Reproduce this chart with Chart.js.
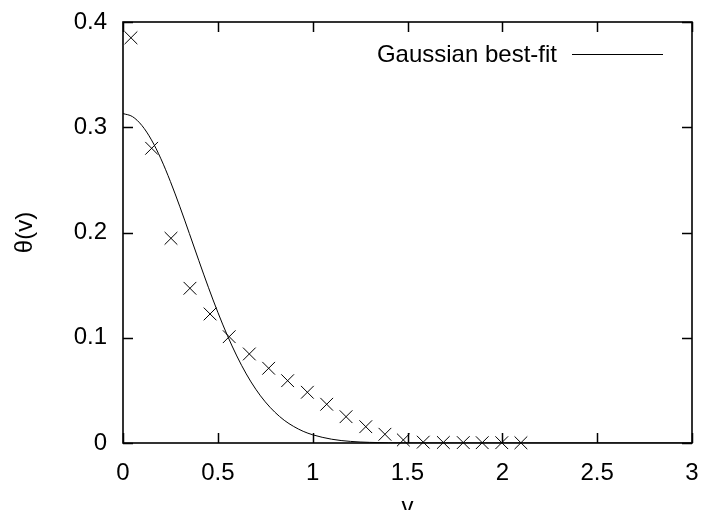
<!DOCTYPE html>
<html>
<head>
<meta charset="utf-8">
<script src="https://cdn.jsdelivr.net/npm/chart.js@4/dist/chart.umd.min.js"></script>
<style>
  html, body { margin: 0; padding: 0; background: #ffffff; }
  #wrap { width: 704px; height: 510px; }
</style>
</head>
<body>
<div id="wrap"><canvas id="c" width="704" height="510"></canvas></div>
<script>
// ---- data ----
const pointX = [0.042, 0.151, 0.253, 0.353, 0.459, 0.560, 0.666, 0.768, 0.868, 0.972,
                1.074, 1.176, 1.280, 1.381, 1.478, 1.583, 1.689, 1.794, 1.894, 1.997, 2.098];
const pointTheta = [0.385, 0.280, 0.1945, 0.147, 0.1226, 0.101, 0.0846, 0.071, 0.0592, 0.0482,
                    0.0368, 0.025, 0.0155, 0.0083, 0.0029, 0.0008, 0.0005, 0.0004, 0.0003, 0.0003, 0.0002];
const fitX = [0, 0.05, 0.1, 0.15, 0.2, 0.25, 0.3, 0.35, 0.4, 0.45, 0.5, 0.55, 0.6, 0.65, 0.7,
              0.75, 0.8, 0.85, 0.9, 0.95, 1.0, 1.1, 1.2, 1.3, 1.4, 1.5, 1.75, 2.0, 2.5, 3.0];
const fitTheta = [0.313, 0.3101, 0.3016, 0.288, 0.270, 0.2484, 0.2244, 0.199, 0.1732, 0.148,
                  0.1242, 0.1023, 0.0827, 0.0656, 0.0511, 0.0391, 0.0294, 0.0216, 0.0157, 0.0111,
                  0.0078, 0.0036, 0.0015, 0.0006, 0.0002, 0.0001, 0, 0, 0, 0];
const xTicks = [0, 0.5, 1, 1.5, 2, 2.5, 3];
const yTicks = [0, 0.1, 0.2, 0.3, 0.4];
const legendLabel = 'Gaussian best-fit';
const xTitle = 'v';
const yTitle = 'θ(v)';

const FONT = 'Liberation Sans, Arial, Helvetica, sans-serif';
const FSIZE = 24;

const framePlugin = {
  id: 'frame',
  afterDatasetsDraw(chart) {
    const {ctx, chartArea: a, scales} = chart;
    const xs = scales.x, ys = scales.y;
    ctx.save();
    ctx.strokeStyle = '#000';
    ctx.lineWidth = 1.5;
    ctx.beginPath();
    const T = 10;
    xTicks.forEach(v => {
      const px = Math.round(xs.getPixelForValue(v)) + 0.5;
      ctx.moveTo(px, a.bottom); ctx.lineTo(px, a.bottom - T);
      ctx.moveTo(px, a.top); ctx.lineTo(px, a.top + T);
    });
    yTicks.forEach(v => {
      const py = Math.round(ys.getPixelForValue(v)) + 0.5;
      ctx.moveTo(a.left, py); ctx.lineTo(a.left + T, py);
      ctx.moveTo(a.right, py); ctx.lineTo(a.right - T, py);
    });
    ctx.stroke();
    ctx.lineWidth = 1.6;
    ctx.strokeRect(a.left, a.top, a.right - a.left, a.bottom - a.top);

    // legend (gnuplot style: text then sample line)
    ctx.fillStyle = '#000';
    ctx.font = FSIZE + 'px ' + FONT;
    ctx.textAlign = 'right';
    ctx.textBaseline = 'alphabetic';
    ctx.fillText(legendLabel, 557, 62);
    ctx.lineWidth = 1;
    ctx.beginPath();
    ctx.moveTo(572, 54.5); ctx.lineTo(663, 54.5);
    ctx.stroke();

    // x axis title
    ctx.textAlign = 'center';
    ctx.fillText(xTitle, (a.left + a.right) / 2, 514);
    ctx.restore();
  }
};

const fmt = v => String(+Number(v).toFixed(2));
const noPad = s => { s.paddingLeft = 0; s.paddingRight = 0; s.paddingTop = 0; s.paddingBottom = 0; };

new Chart(document.getElementById('c'), {
  type: 'scatter',
  data: {
    datasets: [
      {
        label: legendLabel,
        type: 'line',
        data: fitX.map((x, i) => ({x, y: fitTheta[i]})),
        borderColor: '#000',
        borderWidth: 1,
        pointRadius: 0,
        fill: false,
        cubicInterpolationMode: 'monotone',
        clip: 0
      },
      {
        label: 'data',
        data: pointX.map((x, i) => ({x, y: pointTheta[i]})),
        pointStyle: 'crossRot',
        pointRadius: 9,
        borderColor: '#000',
        backgroundColor: '#000',
        borderWidth: 1,
        showLine: false,
        clip: false
      }
    ]
  },
  options: {
    responsive: false,
    animation: false,
    devicePixelRatio: 1,
    layout: { padding: { left: 0, right: 12, top: 22, bottom: 0 } },
    plugins: { legend: { display: false }, tooltip: { enabled: false } },
    scales: {
      x: {
        type: 'linear', min: 0, max: 3,
        afterFit(s) { s.height = 67; noPad(s); },
        afterBuildTicks(s) { s.ticks = xTicks.map(v => ({value: v})); },
        grid: { display: false, drawTicks: false },
        border: { display: false },
        ticks: { padding: 16, color: '#000', font: { family: FONT, size: FSIZE }, callback: fmt, maxRotation: 0, autoSkip: false }
      },
      y: {
        type: 'linear', min: 0, max: 0.4,
        afterFit(s) { s.width = 123; noPad(s); },
        afterBuildTicks(s) { s.ticks = yTicks.map(v => ({value: v})); },
        grid: { display: false, drawTicks: false },
        border: { display: false },
        ticks: { padding: 16, color: '#000', font: { family: FONT, size: FSIZE }, callback: fmt, autoSkip: false },
        title: { display: true, text: yTitle, color: '#000', font: { family: FONT, size: FSIZE }, padding: { top: 11, bottom: 0 } }
      }
    }
  },
  plugins: [framePlugin]
});
</script>
</body>
</html>
